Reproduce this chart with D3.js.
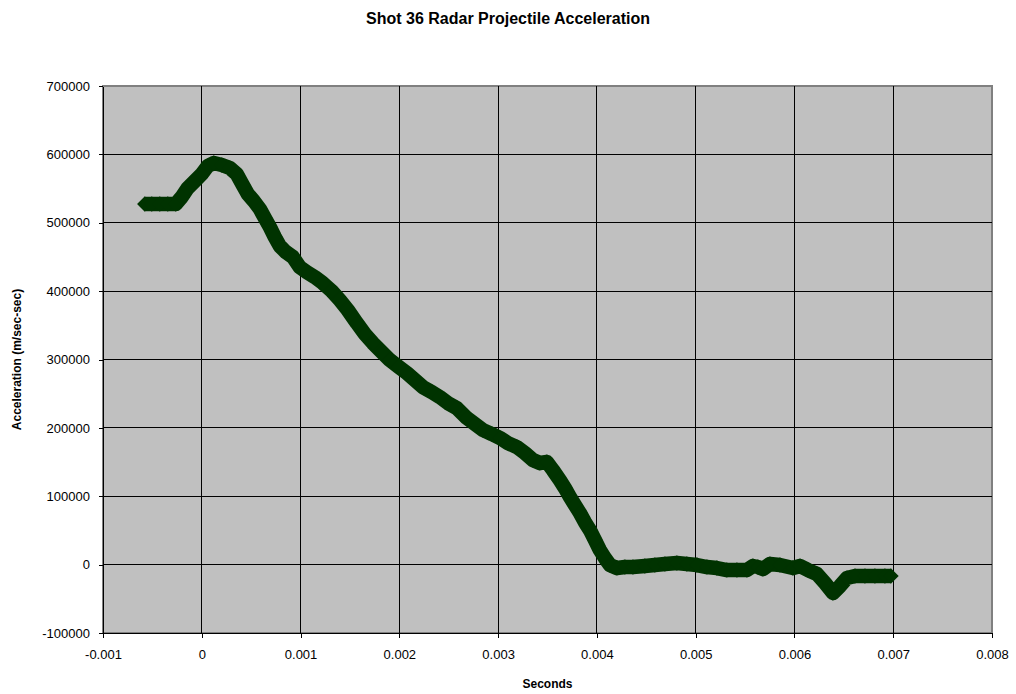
<!DOCTYPE html>
<html>
<head>
<meta charset="utf-8">
<script src="https://cdn.jsdelivr.net/npm/d3@7"></script>
<style>
  html, body { margin: 0; padding: 0; background: #ffffff; }
  svg { display: block; font-family: "Liberation Sans", Arial, sans-serif; }
</style>
</head>
<body>
<svg id="chart" width="1016" height="694"></svg>
<script>
// Time since shot start (s)
const seconds = [
  -0.000577, -0.000506, -0.000425, -0.000344, -0.000263, -0.000203, -0.000142, -0.000071,
  0.000000, 0.000061, 0.000122, 0.000203, 0.000284, 0.000354, 0.000415, 0.000466,
  0.000527, 0.000588, 0.000638, 0.000689, 0.000739, 0.000790, 0.000851, 0.000922,
  0.000992, 0.001063, 0.001144, 0.001225, 0.001316, 0.001397, 0.001478, 0.001570,
  0.001651, 0.001732, 0.001823, 0.001904, 0.001995, 0.002076, 0.002157, 0.002238,
  0.002329, 0.002410, 0.002491, 0.002582, 0.002684, 0.002765, 0.002846, 0.002937,
  0.003018, 0.003099, 0.003190, 0.003271, 0.003352, 0.003423, 0.003494, 0.003554,
  0.003625, 0.003676, 0.003727, 0.003777, 0.003828, 0.003878, 0.003929, 0.003980,
  0.004030, 0.004081, 0.004132, 0.004203, 0.004284, 0.004365, 0.004486, 0.004587,
  0.004689, 0.004810, 0.004911, 0.005013, 0.005114, 0.005215, 0.005316, 0.005418,
  0.005519, 0.005580, 0.005630, 0.005681, 0.005752, 0.005853, 0.005985, 0.006056,
  0.006137, 0.006228, 0.006309, 0.006390, 0.006461, 0.006532, 0.006613, 0.006714,
  0.006815, 0.006916, 0.006977
];

// Radar-derived projectile acceleration (m/sec-sec)
const acceleration = [
  527400, 527400, 527400, 527400, 527400, 537600, 550800, 561000,
  571300, 583000, 587300, 584400, 580000, 571300, 555200, 542000,
  531800, 520100, 506900, 493700, 479100, 466000, 457200, 449900,
  435200, 427900, 420600, 411800, 400100, 387000, 372400, 353300,
  337300, 324100, 310900, 299200, 289000, 280200, 270000, 259700,
  252400, 245100, 236300, 229000, 214400, 205600, 196900, 191000,
  185200, 177800, 172000, 163200, 153000, 148600, 150100, 138400,
  123700, 112000, 98900, 87200, 75500, 62300, 50600, 36000,
  21400, 9700, -600, -5000, -3500, -3500, -2000, -600,
  900, 2300, 900, -600, -3500, -5000, -7900, -7900,
  -7900, -2000, -3500, -6400, 900, -600, -5000, -2000,
  -7900, -13700, -26900, -41500, -31300, -19600, -16700, -16700,
  -16700, -16700, -16700
];

const xTicks = [-0.001, 0, 0.001, 0.002, 0.003, 0.004, 0.005, 0.006, 0.007, 0.008];
const xTickLabels = ["-0.001", "0", "0.001", "0.002", "0.003", "0.004", "0.005", "0.006", "0.007", "0.008"];
const yTicks = [-100000, 0, 100000, 200000, 300000, 400000, 500000, 600000, 700000];
const yTickLabels = ["-100000", "0", "100000", "200000", "300000", "400000", "500000", "600000", "700000"];

const titleText = "Shot 36 Radar Projectile Acceleration";
const xTitle = "Seconds";
const yTitle = "Acceleration (m/sec-sec)";

const points = seconds.map((t, i) => ({ t, a: acceleration[i] }));

const svg = d3.select("#chart");
const plot = { left: 103, right: 992, top: 86, bottom: 633 };

const x = d3.scaleLinear().domain([-0.001, 0.008]).range([plot.left, plot.right]);
const y = d3.scaleLinear().domain([-100000, 700000]).range([plot.bottom, plot.top]);

// Plot area background and frame
svg.append("rect")
  .attr("x", plot.left).attr("y", plot.top)
  .attr("width", plot.right - plot.left).attr("height", plot.bottom - plot.top)
  .attr("fill", "#c0c0c0")
  .attr("stroke", "#808080").attr("stroke-width", 2);

// Gridlines
const grid = svg.append("g").attr("shape-rendering", "crispEdges");
grid.selectAll("line.gx").data(xTicks.slice(1, -1)).join("line")
  .attr("class", "gx")
  .attr("x1", d => x(d)).attr("x2", d => x(d))
  .attr("y1", plot.top).attr("y2", plot.bottom)
  .attr("stroke", "#000").attr("stroke-width", 1);
grid.selectAll("line.gy").data(yTicks.slice(1, -1)).join("line")
  .attr("class", "gy")
  .attr("x1", plot.left).attr("x2", plot.right)
  .attr("y1", d => y(d)).attr("y2", d => y(d))
  .attr("stroke", "#000").attr("stroke-width", 1);

// Axes
const xAxis = d3.axisBottom(x)
  .tickValues(xTicks)
  .tickFormat((d, i) => xTickLabels[i])
  .tickSizeInner(5).tickSizeOuter(0).tickPadding(12);
const yAxis = d3.axisLeft(y)
  .tickValues(yTicks)
  .tickFormat((d, i) => yTickLabels[i])
  .tickSizeInner(4).tickSizeOuter(0).tickPadding(9);

const gx = svg.append("g")
  .attr("transform", `translate(0,${plot.bottom})`)
  .attr("shape-rendering", "crispEdges")
  .call(xAxis);
const gy = svg.append("g")
  .attr("transform", `translate(${plot.left},0)`)
  .attr("shape-rendering", "crispEdges")
  .call(yAxis);

[gx, gy].forEach(g => {
  g.select(".domain").attr("stroke", "#000").attr("stroke-width", 1.5);
  g.selectAll(".tick line").attr("stroke", "#000");
  g.selectAll(".tick text")
    .attr("fill", "#000")
    .style("font-family", "'Liberation Sans', Arial, sans-serif")
    .style("font-size", "13px");
});

// Data series: thick trace plus diamond markers
const markColor = "#003300";
const line = d3.line().x(d => x(d.t)).y(d => y(d.a));

svg.append("path")
  .datum(points)
  .attr("d", line)
  .attr("fill", "none")
  .attr("stroke", markColor)
  .attr("stroke-width", 14.5)
  .attr("stroke-linejoin", "round")
  .attr("stroke-linecap", "butt");

const diamond = d3.symbol(d3.symbolSquare, 120)();
svg.append("g").selectAll("path").data(points).join("path")
  .attr("d", diamond)
  .attr("transform", d => `translate(${x(d.t)},${y(d.a)}) rotate(45)`)
  .attr("fill", markColor);

// Titles
svg.append("text")
  .attr("x", 508).attr("y", 24)
  .attr("text-anchor", "middle")
  .style("font-size", "16px").style("font-weight", "bold")
  .text(titleText);

svg.append("text")
  .attr("x", (plot.left + plot.right) / 2).attr("y", 688)
  .attr("text-anchor", "middle")
  .style("font-size", "12px").style("font-weight", "bold")
  .text(xTitle);

svg.append("text")
  .attr("transform", `translate(21,${(plot.top + plot.bottom) / 2}) rotate(-90)`)
  .attr("text-anchor", "middle")
  .style("font-size", "12px").style("font-weight", "bold")
  .text(yTitle);
</script>
</body>
</html>
